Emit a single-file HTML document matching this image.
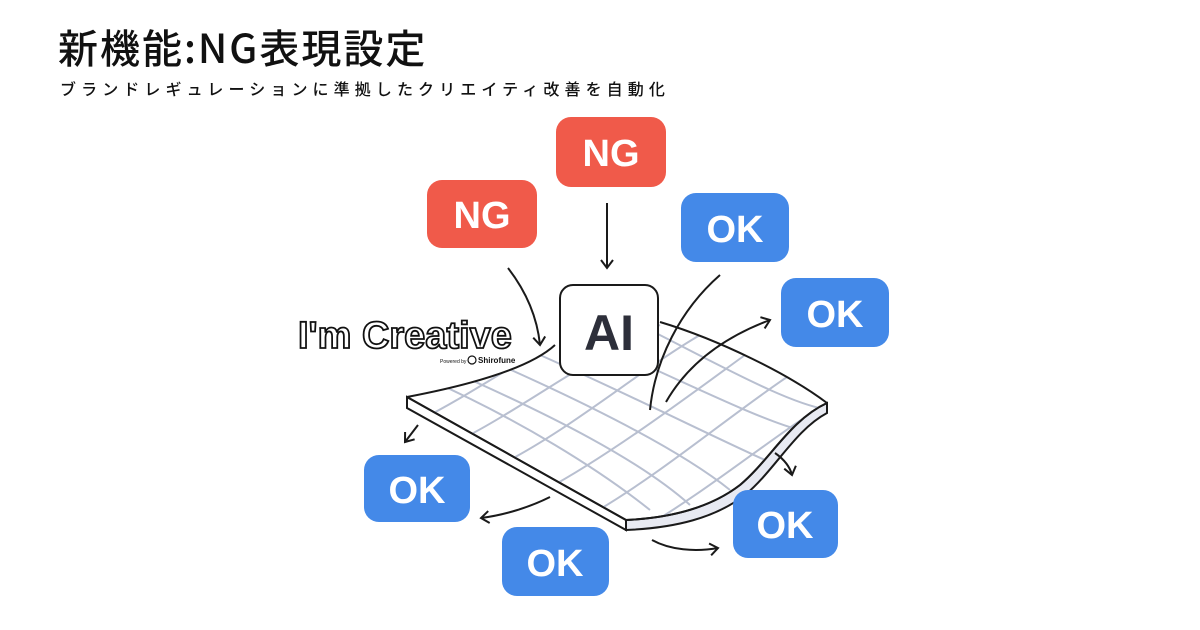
<!DOCTYPE html>
<html><head><meta charset="utf-8"><style>
html,body{margin:0;padding:0;background:#fff;}
body{width:1200px;height:630px;overflow:hidden;position:relative;font-family:"Liberation Sans","Noto Sans CJK JP",sans-serif;}
.t{position:absolute;left:58px;top:17px;font-size:40px;color:#111;font-family:"Noto Sans CJK JP","Liberation Sans",sans-serif;font-weight:500;letter-spacing:2px;}
.s{position:absolute;left:60px;top:76px;font-size:16px;color:#111;letter-spacing:5.1px;font-family:"Noto Sans CJK JP",sans-serif;font-weight:500;}
svg{position:absolute;left:0;top:0;}
</style></head><body>
<div class="t">新機能:NG表現設定</div>
<div class="s">ブランドレギュレーションに準拠したクリエイティ改善を自動化</div>
<svg width="1200" height="630" viewBox="0 0 1200 630">
<defs>
<clipPath id="sc"><path d="M407,397 C470,385 530,368 555,345 L660,322 C720,340 790,375 827,403 C790,420 770,460 740,485 C710,508 670,518 626,520 Z"/></clipPath>
<marker id="ah" markerWidth="16" markerHeight="16" refX="11" refY="8" orient="auto" markerUnits="userSpaceOnUse"><path d="M3,2 L11,8 L3,14" fill="none" stroke="#1a1a1a" stroke-width="2"/></marker>
</defs>
<path d="M407,397 L626,520 L626,530 L407,408 Z" fill="#fff" stroke="#1a1a1a" stroke-width="2"/>
<path d="M626,520 C670,518 710,508 740,485 C770,460 790,420 827,403 L827,413 C795,430 775,470 745,495 C715,518 675,528 626,530 Z" fill="#e8eaf2" stroke="#1a1a1a" stroke-width="2"/>
<g clip-path="url(#sc)" stroke="#b8bfd0" stroke-width="2" fill="none">
<path d="M430,380 C520,420 600,470 650,510"/><path d="M460,375 C550,415 640,460 690,505"/>
<path d="M500,365 C590,405 680,450 730,490"/><path d="M540,355 C630,395 720,440 765,460"/>
<path d="M590,340 C680,380 760,420 800,430"/><path d="M640,325 C720,365 790,405 830,410"/>
<path d="M420,420 C480,390 540,345 600,320"/><path d="M460,440 C520,410 600,350 660,325"/>
<path d="M500,465 C570,430 640,370 700,335"/><path d="M545,490 C610,455 690,395 745,355"/>
<path d="M590,515 C660,475 730,415 790,375"/><path d="M640,530 C710,490 780,430 840,395"/>
</g>
<path d="M407,397 C470,385 530,368 555,345" fill="none" stroke="#1a1a1a" stroke-width="2"/>
<path d="M660,322 C720,340 790,375 827,403" fill="none" stroke="#1a1a1a" stroke-width="2"/>
<path d="M407,397 L626,520 C670,518 710,508 740,485 C770,460 790,420 827,403" fill="none" stroke="#1a1a1a" stroke-width="2"/>
<g fill="none" stroke="#1a1a1a" stroke-width="2">
<path d="M607,203 L607,268" marker-end="url(#ah)"/>
<path d="M508,268 C525,290 537,315 540,345" marker-end="url(#ah)"/>
<path d="M720,275 C680,310 655,360 650,410"/>
<path d="M666,402 C690,360 730,335 770,320" marker-end="url(#ah)"/>
<path d="M418,425 L405,442" marker-end="url(#ah)"/>
<path d="M550,497 C530,507 505,515 481,518" marker-end="url(#ah)"/>
<path d="M652,540 C670,550 695,552 718,548" marker-end="url(#ah)"/>
<path d="M775,453 C785,460 790,467 792,475" marker-end="url(#ah)"/>
</g>
<rect x="560" y="285" width="98" height="90" rx="13" fill="#fff" stroke="#1a1a1a" stroke-width="2"/>
<text x="609" y="350" text-anchor="middle" font-family="Liberation Sans" font-size="50" fill="#2d2f3a" font-weight="bold">AI</text>
<g font-family="Liberation Sans" font-weight="bold" font-size="38" fill="#fff" text-anchor="middle">
<rect x="556" y="117" width="110" height="70" rx="15" fill="#f05a4a"/><text x="611" y="166">NG</text>
<rect x="427" y="180" width="110" height="68" rx="15" fill="#f05a4a"/><text x="482" y="228">NG</text>
<rect x="681" y="193" width="108" height="69" rx="15" fill="#4489e8"/><text x="735" y="242">OK</text>
<rect x="781" y="278" width="108" height="69" rx="15" fill="#4489e8"/><text x="835" y="327">OK</text>
<rect x="364" y="455" width="106" height="67" rx="15" fill="#4489e8"/><text x="417" y="503">OK</text>
<rect x="502" y="527" width="107" height="69" rx="15" fill="#4489e8"/><text x="555" y="576">OK</text>
<rect x="733" y="490" width="105" height="68" rx="15" fill="#4489e8"/><text x="785" y="538">OK</text>
</g>
<text x="298" y="348" font-family="Liberation Sans" font-weight="bold" font-size="38" fill="#fff" stroke="#111" stroke-width="1.8">I'm Creative</text>
<text x="440" y="363" font-family="Liberation Sans" font-size="5" fill="#111">Powered by</text>
<circle cx="472" cy="360" r="4" fill="none" stroke="#111" stroke-width="1.2"/>
<text x="478" y="363" font-family="Liberation Sans" font-weight="bold" font-size="8" fill="#111">Shirofune</text>
</svg>
</body></html>
